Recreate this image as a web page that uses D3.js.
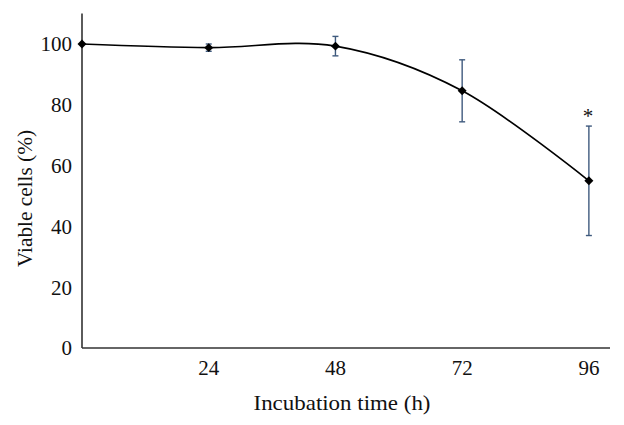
<!DOCTYPE html>
<html><head><meta charset="utf-8">
<script src="https://cdn.jsdelivr.net/npm/d3@7"></script>
<style>body{margin:0;background:#fff}svg{display:block}</style>
</head><body><svg id="c" width="624" height="425"></svg>
<script>
const hours = [0, 24, 48, 72, 96];
const viable = [100, 98.8, 99.3, 84.6, 55];
const sd = [0, 1.2, 3.2, 10.2, 18];
const significant = [false, false, false, false, true];
const xTicks = [24, 48, 72, 96];
const yTicks = [0, 20, 40, 60, 80, 100];

const svg = d3.select("#c");
const font = "'Liberation Serif', 'DejaVu Serif', serif";
const x = d3.scaleLinear().domain([0, 100]).range([82, 610]);
const y = d3.scaleLinear().domain([0, 110]).range([348, 13.6]);

// axes
svg.append("line").attr("x1", x(0)).attr("x2", x(100)).attr("y1", y(0)).attr("y2", y(0)).attr("stroke", "#333").attr("stroke-width", 1.6);
svg.append("line").attr("x1", x(0)).attr("x2", x(0)).attr("y1", y(0)).attr("y2", y(110)).attr("stroke", "#333").attr("stroke-width", 1.6);

svg.selectAll(".yt").data(yTicks).join("text")
  .attr("x", x(0) - 10).attr("y", d => y(d)).attr("dy", "0.35em")
  .attr("text-anchor", "end").attr("font-family", font).attr("font-size", 21).attr("fill", "#111")
  .text(d => d);
svg.selectAll(".xt").data(xTicks).join("text")
  .attr("x", d => x(d)).attr("y", y(0) + 27)
  .attr("text-anchor", "middle").attr("font-family", font).attr("font-size", 21).attr("fill", "#111")
  .text(d => d);

svg.append("text").attr("x", 342).attr("y", 410).attr("text-anchor", "middle")
  .attr("font-family", font).attr("font-size", 21).attr("fill", "#111")
  .attr("textLength", 177).attr("lengthAdjust", "spacingAndGlyphs").text("Incubation time (h)");
svg.append("text").attr("transform", "translate(32,198.5) rotate(-90)").attr("text-anchor", "middle")
  .attr("font-family", font).attr("font-size", 21).attr("fill", "#111")
  .attr("textLength", 137).attr("lengthAdjust", "spacingAndGlyphs").text("Viable cells (%)");

const data = hours.map((h, i) => ({h, v: viable[i], e: sd[i], s: significant[i]}));

// error bars
const eb = data.filter(d => d.e > 0);
const ebc = "#3f5a7e";
svg.selectAll(".ev").data(eb).join("line")
  .attr("x1", d => x(d.h)).attr("x2", d => x(d.h)).attr("y1", d => y(d.v - d.e)).attr("y2", d => y(d.v + d.e))
  .attr("stroke", ebc).attr("stroke-width", 1.4);
["-", "+"].forEach(sgn => {
  svg.selectAll(".ec" + (sgn === "-" ? "l" : "u")).data(eb).join("line")
    .attr("x1", d => x(d.h) - 3).attr("x2", d => x(d.h) + 3)
    .attr("y1", d => y(sgn === "-" ? d.v - d.e : d.v + d.e)).attr("y2", d => y(sgn === "-" ? d.v - d.e : d.v + d.e))
    .attr("stroke", ebc).attr("stroke-width", 1.4);
});

// line
const line = d3.line().x(d => x(d.h)).y(d => y(d.v)).curve(d3.curveCardinal.tension(0));
svg.append("path").datum(data).attr("d", line).attr("fill", "none").attr("stroke", "#000").attr("stroke-width", 1.7);

// markers
svg.selectAll(".m").data(data).join("path")
  .attr("transform", d => `translate(${x(d.h)},${y(d.v)}) rotate(45)`)
  .attr("d", d3.symbol(d3.symbolSquare, 40)).attr("fill", "#000");

// significance
svg.selectAll(".s").data(data.filter(d => d.s)).join("text")
  .attr("x", d => x(d.h) - 1).attr("y", d => y(d.v + d.e) - 3)
  .attr("text-anchor", "middle").attr("font-family", font).attr("font-size", 21).attr("fill", "#111")
  .text("*");
</script></body></html>
